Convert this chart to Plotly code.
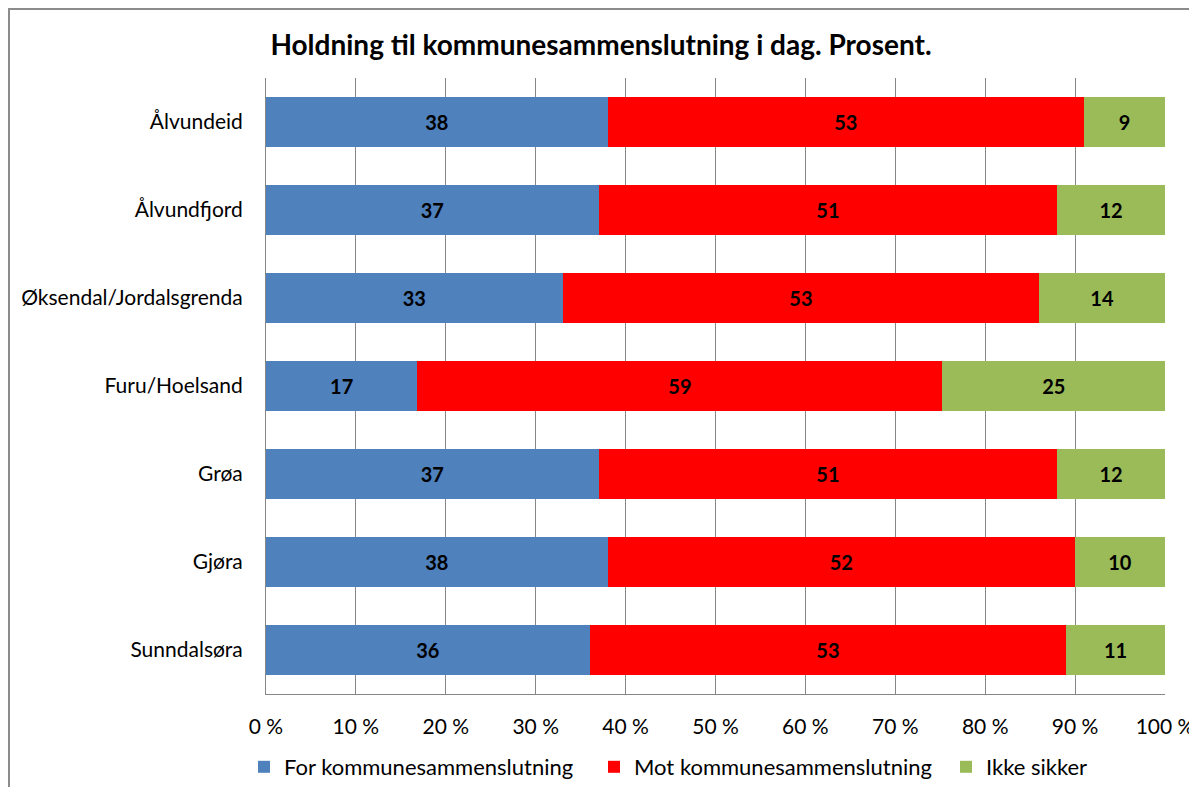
import plotly.graph_objects as go

categories = ["Ålvundeid", "Ålvundfjord", "Øksendal/Jordalsgrenda", "Furu/Hoelsand", "Grøa", "Gjøra", "Sunndalsøra"]
for_vals = [38, 37, 33, 17, 37, 38, 36]
mot_vals = [53, 51, 53, 59, 51, 52, 53]
ikke_vals = [9, 12, 14, 25, 12, 10, 11]
series_names = ["For kommunesammenslutning", "Mot kommunesammenslutning", "Ikke sikker"]
colors = ["#4F81BD", "#FF0000", "#9BBB59"]
tick_vals = [0, 10, 20, 30, 40, 50, 60, 70, 80, 90, 100]
tick_text = [f"{v} %" for v in tick_vals]
title_text = "Holdning til kommunesammenslutning i dag. Prosent."

FONT = "Lato"
# page body has an 8px margin; figure coordinates = screenshot - 8
OFF = 8
W, H = 1197 - OFF, 787 - OFF
L, T = 266 - OFF, 78 - OFF
R = W - (1165 - OFF)
B = H - (694 - OFF)
pw, ph = W - L - R, H - T - B

def px(x):
    return (x - OFF - L) / pw

def py(y):
    return (H - B - (y - OFF)) / ph

def cx(x):
    return (x - OFF) / W

def cy(y):
    return 1 - (y - OFF) / H

legend_ids = ["legend", "legend2", "legend3"]
legend_x = [244, 594, 946]

fig = go.Figure()
for name, vals, col, lid in zip(series_names, [for_vals, mot_vals, ikke_vals], colors, legend_ids):
    fig.add_trace(go.Bar(
        y=categories, x=vals, name=name, orientation="h", legend=lid, showlegend=True,
        marker=dict(color=col, line=dict(width=0)),
        text=[str(v) for v in vals], textposition="inside",
        insidetextanchor="middle", textangle=0,
        textfont=dict(family=FONT, size=20, color="black", weight="bold"),
    ))

legend_common = dict(orientation="h", yanchor="middle", xanchor="left",
                     xref="container", yref="container", visible=True,
                     font=dict(family=FONT, size=22, color="black"),
                     itemwidth=30, bgcolor="rgba(0,0,0,0)")
legends = {}
for lid, lx in zip(legend_ids, legend_x):
    legends[lid] = dict(legend_common, x=cx(lx), y=cy(767))

border = dict(color="#8C8C8C", width=2)
fig.update_layout(
    barmode="stack", barnorm="percent", bargap=0.43,
    width=W, height=H, showlegend=True,
    margin=dict(l=L, r=R, t=T, b=B, autoexpand=False),
    paper_bgcolor="white", plot_bgcolor="white",
    font=dict(family=FONT, size=20, color="black"),
    title=dict(text=title_text, x=cx(601), xanchor="center", y=cy(45), yanchor="middle",
               font=dict(family=FONT, size=28, color="black", weight="bold")),
    xaxis=dict(range=[0, 100], tickvals=tick_vals, ticktext=tick_text,
               showgrid=True, gridcolor="#868686", gridwidth=1,
               showline=True, linecolor="#868686", linewidth=1, automargin=False,
               ticks="", ticklabelstandoff=14, zeroline=False, fixedrange=True,
               tickfont=dict(family=FONT, size=21)),
    yaxis=dict(autorange="reversed", showline=True, linecolor="#868686", linewidth=1,
               ticks="", ticklabelstandoff=18, showgrid=False, automargin=False,
               tickfont=dict(family=FONT, size=21)),
    shapes=[
        dict(type="line", xref="paper", yref="paper",
             x0=px(9), x1=px(9), y0=py(787), y1=py(8), line=border, layer="below"),
        dict(type="line", xref="paper", yref="paper",
             x0=px(8), x1=px(1197), y0=py(9), y1=py(9), line=border, layer="below"),
    ],
    **legends,
)

fig.write_html("out.html")
